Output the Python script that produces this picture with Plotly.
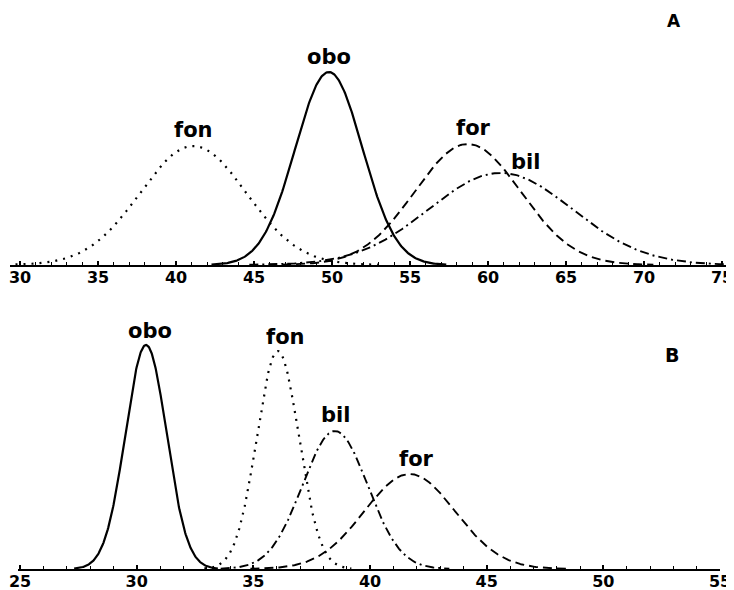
import numpy as np
import plotly.graph_objects as go

# ---- data (normal curves: mean, sd, relative peak height) ----
a_species = ["fon", "obo", "for", "bil"]
a_mean = [41.1, 49.8, 58.7, 60.8]
a_sd = [3.4, 2.15, 3.4, 4.6]
a_peak = [0.617, 1.0, 0.627, 0.477]

b_species = ["obo", "fon", "bil", "for"]
b_mean = [30.4, 36.05, 38.5, 41.7]
b_sd = [0.88, 0.9, 1.4, 1.95]
b_peak = [1.0, 0.973, 0.616, 0.424]

a_ticks = [30, 35, 40, 45, 50, 55, 60, 65, 70, 75]
b_ticks = [25, 30, 35, 40, 45, 50, 55]
panel_labels = ["A", "B"]

# ---- styles ----
W, H = 726, 582  # page body has an 8px default margin
dash_style = {
    "obo": dict(dash="solid", width=2.2),
    "fon": dict(dash="2px,6px", width=2.2),
    "for": dict(dash="9px,5px", width=1.9),
    "bil": dict(dash="9px,4px,2px,4px", width=1.9),
}
label_shift = {
    ("A", "fon"): (0, 16), ("A", "obo"): (0, 15), ("A", "for"): (6, 16), ("A", "bil"): (25, 11),
    ("B", "obo"): (4, 14), ("B", "fon"): (8, 14), ("B", "bil"): (0, 16), ("B", "for"): (7, 15),
}

fig = go.Figure()
anns = []

def add_panel(panel, species, means, sds, peaks, xa, ya):
    for s, m, sd, p in zip(species, means, sds, peaks):
        x = np.linspace(m - 3.5 * sd, m + 3.5 * sd, 300)
        y = p * np.exp(-((x - m) ** 2) / (2 * sd ** 2))
        fig.add_trace(go.Scatter(x=x, y=y, mode="lines", xaxis=xa, yaxis=ya,
                                 line=dict(color="black", **dash_style[s]),
                                 showlegend=False, hoverinfo="skip"))
        dx, dy = label_shift[(panel, s)]
        anns.append(dict(x=m, y=p, xref=xa, yref=ya, text="<b>%s</b>" % s,
                         showarrow=False, xshift=dx, yshift=dy, xanchor="center", yanchor="middle",
                         font=dict(family="DejaVu Sans", size=21, color="black")))

add_panel("A", a_species, a_mean, a_sd, a_peak, "x", "y")
add_panel("B", b_species, b_mean, b_sd, b_peak, "x2", "y2")

anns.append(dict(x=666 / W, y=1 - 13 / H, xref="paper", yref="paper", text="<b>%s</b>" % panel_labels[0],
                 showarrow=False, xanchor="center", yanchor="middle",
                 font=dict(family="DejaVu Sans", size=17, color="black")))
anns.append(dict(x=664 / W, y=1 - 347 / H, xref="paper", yref="paper", text="<b>%s</b>" % panel_labels[1],
                 showarrow=False, xanchor="center", yanchor="middle",
                 font=dict(family="DejaVu Sans", size=19, color="black")))

xcommon = dict(showgrid=False, zeroline=False, showline=True, linecolor="black", linewidth=2,
               ticks="inside", ticklen=4, tickwidth=1.5, tickcolor="black",
               tickfont=dict(family="DejaVu Sans", size=16, color="black", weight="bold"),
               ticklabelstandoff=-3, ticklabeloverflow="allow",
               minor=dict(dtick=1, ticks="inside", ticklen=3, tickwidth=1.2, tickcolor="black"),
               automargin=False, fixedrange=True)
ycommon = dict(visible=False, showgrid=False, zeroline=False, automargin=False, fixedrange=True)

fig.update_layout(
    width=W, height=H, template="none",
    paper_bgcolor="white", plot_bgcolor="white",
    margin=dict(l=0, r=0, t=0, b=0),
    xaxis=dict(domain=[2 / W, 1], range=[29.359, 75.769], tickvals=a_ticks, anchor="y", **xcommon),
    yaxis=dict(domain=[1 - 257 / H, 1], range=[0, 257 / 193], anchor="x", **ycommon),
    xaxis2=dict(domain=[10 / W, 712 / W], range=[24.914, 55.0], tickvals=b_ticks, anchor="y2", **xcommon),
    yaxis2=dict(domain=[1 - 561 / H, 1 - 292 / H], range=[0, 269 / 224], anchor="x2", **ycommon),
    annotations=anns,
    showlegend=False,
)

fig.write_html("out.html")
